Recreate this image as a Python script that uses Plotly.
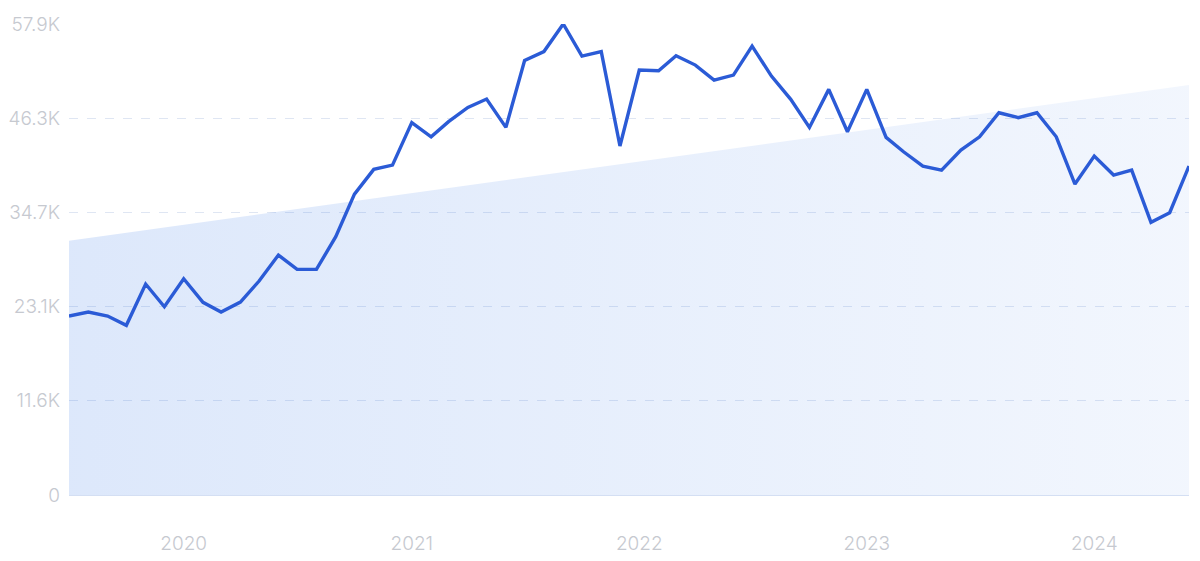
import plotly.graph_objects as go
import pandas as pd

months = pd.date_range("2019-07-01", "2024-06-01", freq="MS")
values = [
    21985, 22473, 21985, 20838, 25911, 23125, 26566, 23660, 22473, 23700,
    26280, 29470, 27710, 27710, 31720, 36960, 40000, 40520, 45740, 44000,
    45850, 47610, 48630, 45150, 53360, 54460, 57850, 53910, 54460, 42860,
    52190, 52104, 53946, 52804, 50962, 51576, 55137, 51453, 48590, 45150,
    49820, 44613, 49820, 43925, 42157, 40400, 39910, 42366, 44000, 46946,
    46350, 46946, 44000, 38190, 41630, 39296, 39910, 33488, 34666, 40400,
]
trend_dates = [months[0], months[-1]]
trend_values = [31230, 50350]

y_tickvals = [0, 11570, 23140, 34710, 46280, 57850]
y_ticktext = ["0", "11.6K", "23.1K", "34.7K", "46.3K", "57.9K"]
x_tickvals = ["2020-01-01", "2021-01-01", "2022-01-01", "2023-01-01", "2024-01-01"]
x_ticktext = ["2020", "2021", "2022", "2023", "2024"]

fig = go.Figure()
fig.add_trace(go.Scatter(
    x=trend_dates, y=trend_values, mode="lines", line=dict(width=0),
    fill="tozeroy",
    fillgradient=dict(type="horizontal",
                      colorscale=[[0, "rgba(40,110,230,0.16)"], [1, "rgba(40,110,230,0.06)"]]),
    hoverinfo="skip", showlegend=False,
))
fig.add_trace(go.Scatter(
    x=months, y=values, mode="lines",
    line=dict(color="#2b5bd6", width=3.4),
    showlegend=False,
))

fig.update_layout(
    width=1192, height=553,
    margin=dict(l=61, r=11, t=16, b=66),
    paper_bgcolor="white", plot_bgcolor="white",
    font=dict(family="Inter, Lato, sans-serif", size=19, weight=300, color="#c6c9d0"),
)
fig.update_xaxes(
    type="date", range=[months[0], months[-1]],
    tickvals=x_tickvals, ticktext=x_ticktext,
    showgrid=False, zeroline=False, showline=False,
    ticks="", ticklabelstandoff=35, automargin=False,
)
fig.update_yaxes(
    range=[0, 57850], tickvals=y_tickvals, ticktext=y_ticktext,
    showgrid=True, gridcolor="#dfe6f3", griddash="dash", gridwidth=1,
    zeroline=True, zerolinecolor="#d4dff3", zerolinewidth=1,
    ticks="", ticklabelstandoff=8, automargin=False,
)

fig.write_html("out.html")
